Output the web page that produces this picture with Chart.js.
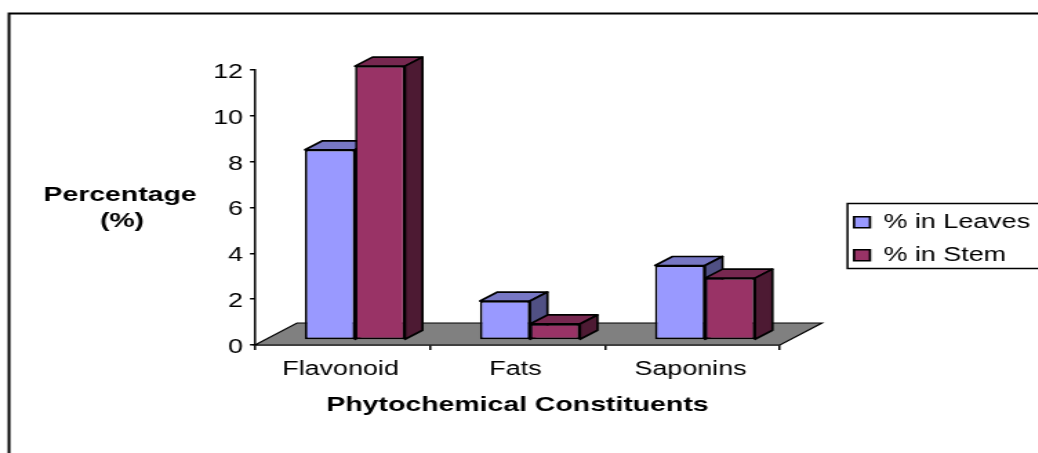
<!DOCTYPE html>
<html>
<head>
<meta charset="utf-8">
<script src="https://cdn.jsdelivr.net/npm/chart.js@4"></script>
<style>
  html, body { margin: 0; padding: 0; background: #fff; overflow: hidden; }
  #wrap { width: 1038px; height: 453px; overflow: hidden; }
  /* the original picture is stretched sideways, so the canvas is too */
  #myChart { display: block; transform-origin: 0 0; transform: scaleX(1.38); }
</style>
</head>
<body>
<div id="wrap"><canvas id="myChart"></canvas></div>
<script>
// data
const categories = ["Flavonoid", "Fats", "Saponins"];
const leavesData = [8.3, 1.7, 3.25];
const stemData = [11.95, 0.7, 2.7];
const seriesNames = ["% in Leaves", "% in Stem"];
const yTitleLines = ["Percentage", "(%)"];
const xTitle = "Phytochemical Constituents";

const STRETCH = 1.38;
const WIDTH = 753;
const HEIGHT = 453;
const FONT = "'Liberation Sans', Arial, sans-serif";
const FONT_SIZE = 19.5;
const BOLD_SIZE = 20.6;

// page px -> canvas px
function sx(x) {
  return x / STRETCH;
}

// depth of the fake 3d
const barShift = { x: sx(12.5), y: -5 };
const barDepth = { x: sx(17.5), y: -9 };
const floorDepth = { x: sx(42), y: -22 };

const canvas = document.getElementById("myChart");
canvas.width = WIDTH;
canvas.height = HEIGHT;
canvas.style.width = WIDTH + "px";
canvas.style.height = HEIGHT + "px";

function poly(ctx, pts, fill) {
  ctx.beginPath();
  ctx.moveTo(pts[0][0], pts[0][1]);
  for (let i = 1; i < pts.length; i++) {
    ctx.lineTo(pts[i][0], pts[i][1]);
  }
  ctx.closePath();
  ctx.fillStyle = fill;
  ctx.fill();
  ctx.stroke();
}

// outer frame, legend frame and the unrotated y title
const framePlugin = {
  id: "frame",
  beforeDraw(chart) {
    const ctx = chart.ctx;
    ctx.save();
    ctx.fillStyle = "#fff";
    ctx.fillRect(0, 0, WIDTH, HEIGHT);
    ctx.strokeStyle = "#000";
    ctx.lineWidth = 2;
    ctx.beginPath();
    ctx.moveTo(sx(9), HEIGHT);
    ctx.lineTo(sx(9), 13.5);
    ctx.lineTo(WIDTH, 13.5);
    ctx.stroke();
    ctx.lineWidth = 1.5;
    ctx.strokeRect(sx(847.5), 203.5, WIDTH, 65);
    ctx.restore();
  },
  afterDraw(chart) {
    const ctx = chart.ctx;
    ctx.save();
    ctx.fillStyle = "#000";
    ctx.font = "bold " + BOLD_SIZE + "px " + FONT;
    ctx.textAlign = "center";
    ctx.textBaseline = "middle";
    ctx.fillText(yTitleLines[0], sx(120), 195);
    ctx.fillText(yTitleLines[1], sx(122), 221);
    ctx.restore();
  },
};

// grey floor first, then the bars left to right so the later one covers
// the side of the earlier one (chart.js would draw them the other way round)
const depthPlugin = {
  id: "depth",
  beforeDatasetsDraw(chart) {
    const ctx = chart.ctx;
    const x = chart.scales.x;
    const y0 = chart.scales.y.getPixelForValue(0);
    ctx.save();
    ctx.strokeStyle = "#000";
    ctx.lineWidth = 1.2;
    poly(ctx, [
      [x.left, y0],
      [x.left + floorDepth.x, y0 + floorDepth.y],
      [x.right + floorDepth.x, y0 + floorDepth.y],
      [x.right, y0],
    ], "#808080");
    ctx.translate(barShift.x, barShift.y);
    ctx.lineWidth = 1.7;
    ctx.lineJoin = "round";
    chart.data.datasets.forEach((ds, i) => {
      const meta = chart.getDatasetMeta(i);
      meta.data.forEach((bar) => {
        const p = bar.getProps(["x", "y", "base", "width"]);
        const l = p.x - p.width / 2;
        const r = p.x + p.width / 2;
        poly(ctx, [
          [l, p.y],
          [l + barDepth.x, p.y + barDepth.y],
          [r + barDepth.x, p.y + barDepth.y],
          [r, p.y],
        ], ds.topColor);
        poly(ctx, [
          [r, p.y],
          [r + barDepth.x, p.y + barDepth.y],
          [r + barDepth.x, p.base + barDepth.y],
          [r, p.base],
        ], ds.sideColor);
      });
      meta.controller.draw();
    });
    ctx.restore();
    return false;
  },
};

// put the legend where the original has it
const legendPlugin = {
  id: "legendPlace",
  afterLayout(chart) {
    const legend = chart.legend;
    legend.left = sx(854) - 13.5;
    legend.right = WIDTH;
    legend.top = 199;
    legend.bottom = 290;
    legend.width = legend.right - legend.left;
    legend.height = legend.bottom - legend.top;
  },
};

const data = {
  labels: categories,
  datasets: [
    {
      label: seriesNames[0],
      data: leavesData,
      backgroundColor: "#9999FF",
      topColor: "#7777C4",
      sideColor: "#505084",
      borderColor: "#000",
      borderWidth: 1.7,
      borderSkipped: false,
      barPercentage: 1,
      categoryPercentage: 100 / 175,
    },
    {
      label: seriesNames[1],
      data: stemData,
      backgroundColor: "#993366",
      topColor: "#772850",
      sideColor: "#4D1A33",
      borderColor: "#000",
      borderWidth: 1.7,
      borderSkipped: false,
      barPercentage: 1,
      categoryPercentage: 100 / 175,
    },
  ],
};

Chart.defaults.font.family = FONT;
Chart.defaults.font.size = FONT_SIZE;
Chart.defaults.color = "#000";

const myChart = new Chart(canvas, {
  type: "bar",
  data,
  plugins: [framePlugin, depthPlugin, legendPlugin],
  options: {
    responsive: false,
    animation: false,
    devicePixelRatio: 1,
    layout: {
      padding: { left: 0, top: 70, right: WIDTH - sx(780), bottom: 0 },
    },
    plugins: {
      tooltip: { enabled: false },
      legend: {
        position: "chartArea",
        align: "start",
        labels: {
          boxWidth: sx(16),
          boxHeight: 11,
          padding: 13.5,
          color: "#000",
        },
      },
    },
    scales: {
      x: {
        afterFit(scale) {
          scale.height = HEIGHT - 345;
        },
        border: { color: "#000", width: 1.5 },
        grid: {
          drawOnChartArea: false,
          color: "#000",
          lineWidth: 1.5,
          tickLength: 5,
        },
        ticks: { padding: 8, maxRotation: 0, autoSkip: false, labelOffset: sx(-2) },
        title: {
          display: true,
          text: xTitle,
          font: { weight: "bold", size: BOLD_SIZE },
          padding: { top: 0, bottom: 35 },
        },
      },
      y: {
        min: 0,
        max: 12,
        afterFit(scale) {
          scale.width = sx(255);
        },
        border: { color: "#000", width: 1.5 },
        grid: {
          drawOnChartArea: false,
          color: "#000",
          lineWidth: 1.5,
          tickLength: sx(5),
        },
        ticks: { stepSize: 2, padding: sx(7), labelOffset: 2.5 },
      },
    },
  },
});
</script>
</body>
</html>
